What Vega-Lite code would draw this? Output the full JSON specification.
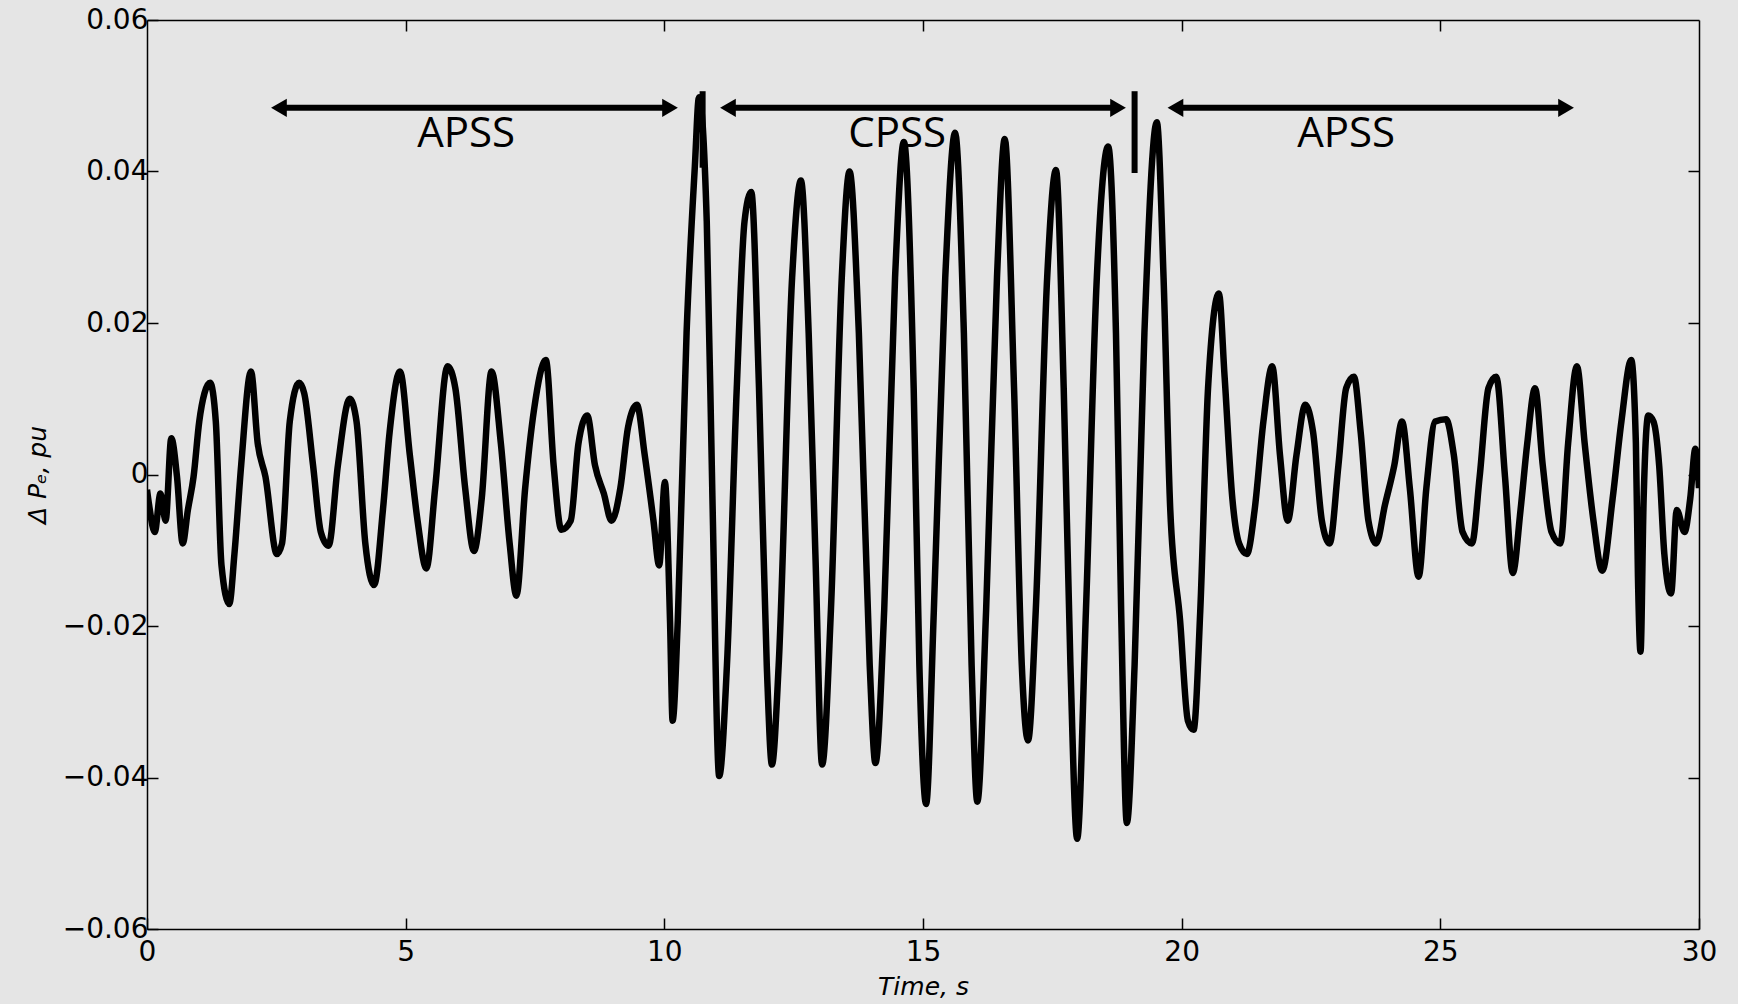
{
  "$schema": "https://vega.github.io/schema/vega-lite/v6.json",
  "width": 1552,
  "height": 909,
  "autosize": {"type": "none"},
  "padding": {"left": 147, "top": 20, "right": 39, "bottom": 75},
  "background": "#e5e5e5",
  "config": {
    "view": {"stroke": null},
    "axis": {
      "domainColor": "#000000",
      "domainWidth": 1.5,
      "tickColor": "#000000",
      "tickWidth": 1.5,
      "grid": false,
      "labelColor": "#000000",
      "titleColor": "#000000",
      "labelFont": "DejaVu Sans",
      "labelFontSize": 28,
      "titleFont": "DejaVu Sans",
      "titleFontStyle": "italic",
      "titleFontWeight": "normal",
      "titleFontSize": 25
    }
  },
  "datasets": {
    "signal": [
      {"t": 0.0, "v": -0.002},
      {"t": 0.04, "v": -0.004},
      {"t": 0.15, "v": -0.0076},
      {"t": 0.26, "v": -0.0025},
      {"t": 0.36, "v": -0.0061},
      {"t": 0.47, "v": 0.0048},
      {"t": 0.58, "v": -0.0003},
      {"t": 0.69, "v": -0.0091},
      {"t": 0.79, "v": -0.0047},
      {"t": 0.9, "v": -0.0003},
      {"t": 1.01, "v": 0.007},
      {"t": 1.11, "v": 0.0107},
      {"t": 1.22, "v": 0.0121},
      {"t": 1.33, "v": 0.007},
      {"t": 1.44, "v": -0.012},
      {"t": 1.59, "v": -0.0171},
      {"t": 1.69, "v": -0.0105},
      {"t": 1.82, "v": 0.0012},
      {"t": 2.01, "v": 0.0136},
      {"t": 2.14, "v": 0.0041},
      {"t": 2.29, "v": -0.0003},
      {"t": 2.51, "v": -0.0105},
      {"t": 2.61, "v": -0.0091},
      {"t": 2.76, "v": 0.007},
      {"t": 2.94, "v": 0.0121},
      {"t": 3.04, "v": 0.0107},
      {"t": 3.21, "v": 0.0012},
      {"t": 3.36, "v": -0.0076},
      {"t": 3.51, "v": -0.0094},
      {"t": 3.69, "v": 0.0012},
      {"t": 3.92, "v": 0.01},
      {"t": 4.05, "v": 0.007},
      {"t": 4.22, "v": -0.0091},
      {"t": 4.39, "v": -0.0146},
      {"t": 4.56, "v": -0.0047},
      {"t": 4.69, "v": 0.0056},
      {"t": 4.89, "v": 0.0136},
      {"t": 5.08, "v": 0.0026},
      {"t": 5.23, "v": -0.0061},
      {"t": 5.4, "v": -0.0124},
      {"t": 5.57, "v": -0.0018},
      {"t": 5.81, "v": 0.0143},
      {"t": 5.96, "v": 0.0114},
      {"t": 6.15, "v": -0.0018},
      {"t": 6.32, "v": -0.0101},
      {"t": 6.47, "v": -0.0032},
      {"t": 6.66, "v": 0.0136},
      {"t": 6.84, "v": 0.0041},
      {"t": 7.01, "v": -0.0091},
      {"t": 7.14, "v": -0.016},
      {"t": 7.31, "v": -0.0018},
      {"t": 7.48, "v": 0.0085},
      {"t": 7.71, "v": 0.0151},
      {"t": 7.86, "v": 0.0012},
      {"t": 8.01, "v": -0.0073},
      {"t": 8.19, "v": -0.0061},
      {"t": 8.34, "v": 0.0041},
      {"t": 8.51, "v": 0.0078},
      {"t": 8.66, "v": 0.0012},
      {"t": 8.83, "v": -0.0025},
      {"t": 8.98, "v": -0.0061},
      {"t": 9.15, "v": -0.0018},
      {"t": 9.3, "v": 0.0063},
      {"t": 9.47, "v": 0.0092},
      {"t": 9.62, "v": 0.0026},
      {"t": 9.79, "v": -0.0061},
      {"t": 9.9, "v": -0.012},
      {"t": 10.01, "v": -0.001},
      {"t": 10.11, "v": -0.0193},
      {"t": 10.16, "v": -0.0325},
      {"t": 10.26, "v": -0.0193},
      {"t": 10.43, "v": 0.0187},
      {"t": 10.59, "v": 0.0407},
      {"t": 10.67, "v": 0.0498},
      {"t": 10.82, "v": 0.0334},
      {"t": 10.93, "v": -0.0032},
      {"t": 11.06, "v": -0.0398},
      {"t": 11.21, "v": -0.0252},
      {"t": 11.4, "v": 0.0114},
      {"t": 11.55, "v": 0.0334},
      {"t": 11.68, "v": 0.0373},
      {"t": 11.83, "v": 0.0114},
      {"t": 11.98, "v": -0.0252},
      {"t": 12.08, "v": -0.0383},
      {"t": 12.21, "v": -0.0252},
      {"t": 12.47, "v": 0.026},
      {"t": 12.64, "v": 0.0388},
      {"t": 12.79, "v": 0.0187},
      {"t": 12.92, "v": -0.0105},
      {"t": 13.05, "v": -0.0383},
      {"t": 13.22, "v": -0.0179},
      {"t": 13.43, "v": 0.026},
      {"t": 13.58, "v": 0.04},
      {"t": 13.76, "v": 0.0187},
      {"t": 13.97, "v": -0.0252},
      {"t": 14.08, "v": -0.0381},
      {"t": 14.25, "v": -0.0179},
      {"t": 14.46, "v": 0.026},
      {"t": 14.63, "v": 0.0439},
      {"t": 14.82, "v": 0.0114},
      {"t": 14.93, "v": -0.0252},
      {"t": 15.06, "v": -0.0435},
      {"t": 15.21, "v": -0.0179},
      {"t": 15.43, "v": 0.026},
      {"t": 15.62, "v": 0.0451},
      {"t": 15.79, "v": 0.0187},
      {"t": 15.94, "v": -0.0252},
      {"t": 16.05, "v": -0.0432},
      {"t": 16.22, "v": -0.0179},
      {"t": 16.43, "v": 0.026},
      {"t": 16.58, "v": 0.0443},
      {"t": 16.76, "v": 0.0114},
      {"t": 16.91, "v": -0.0252},
      {"t": 17.03, "v": -0.0351},
      {"t": 17.18, "v": -0.0179},
      {"t": 17.4, "v": 0.026},
      {"t": 17.57, "v": 0.0402},
      {"t": 17.72, "v": 0.0114},
      {"t": 17.85, "v": -0.0252},
      {"t": 17.98, "v": -0.0481},
      {"t": 18.15, "v": -0.0179},
      {"t": 18.36, "v": 0.026},
      {"t": 18.58, "v": 0.0433},
      {"t": 18.73, "v": 0.0187},
      {"t": 18.83, "v": -0.0179},
      {"t": 18.94, "v": -0.046},
      {"t": 19.09, "v": -0.0252},
      {"t": 19.28, "v": 0.0187},
      {"t": 19.52, "v": 0.0465},
      {"t": 19.65, "v": 0.026},
      {"t": 19.78, "v": -0.0047},
      {"t": 19.97, "v": -0.0193},
      {"t": 20.12, "v": -0.0325},
      {"t": 20.23, "v": -0.0337},
      {"t": 20.36, "v": -0.0179},
      {"t": 20.51, "v": 0.0114},
      {"t": 20.72, "v": 0.0239},
      {"t": 20.83, "v": 0.0129},
      {"t": 20.98, "v": -0.0032},
      {"t": 21.11, "v": -0.0091},
      {"t": 21.26, "v": -0.0105},
      {"t": 21.41, "v": -0.0047},
      {"t": 21.58, "v": 0.007},
      {"t": 21.75, "v": 0.0143},
      {"t": 21.9, "v": 0.0026},
      {"t": 22.05, "v": -0.0061},
      {"t": 22.22, "v": 0.0026},
      {"t": 22.39, "v": 0.0092},
      {"t": 22.54, "v": 0.0056},
      {"t": 22.71, "v": -0.0061},
      {"t": 22.86, "v": -0.0091},
      {"t": 23.03, "v": 0.0012},
      {"t": 23.18, "v": 0.0114},
      {"t": 23.33, "v": 0.0129},
      {"t": 23.46, "v": 0.0056},
      {"t": 23.61, "v": -0.0061},
      {"t": 23.76, "v": -0.0091},
      {"t": 23.93, "v": -0.004},
      {"t": 24.11, "v": 0.0012},
      {"t": 24.26, "v": 0.007},
      {"t": 24.41, "v": -0.0018},
      {"t": 24.58, "v": -0.0135},
      {"t": 24.73, "v": -0.0018},
      {"t": 24.9, "v": 0.007},
      {"t": 25.11, "v": 0.0073},
      {"t": 25.26, "v": 0.0026},
      {"t": 25.43, "v": -0.0076},
      {"t": 25.61, "v": -0.0091},
      {"t": 25.76, "v": -0.0003},
      {"t": 25.93, "v": 0.0114},
      {"t": 26.08, "v": 0.0129},
      {"t": 26.25, "v": -0.0003},
      {"t": 26.4, "v": -0.013},
      {"t": 26.55, "v": -0.0047},
      {"t": 26.68, "v": 0.0041},
      {"t": 26.83, "v": 0.0114},
      {"t": 26.98, "v": 0.0012},
      {"t": 27.15, "v": -0.0076},
      {"t": 27.32, "v": -0.0091},
      {"t": 27.47, "v": 0.0041},
      {"t": 27.64, "v": 0.0143},
      {"t": 27.79, "v": 0.0041},
      {"t": 27.96, "v": -0.0061},
      {"t": 28.13, "v": -0.0127},
      {"t": 28.33, "v": -0.0032},
      {"t": 28.5, "v": 0.007},
      {"t": 28.69, "v": 0.0151},
      {"t": 28.78, "v": 0.0041},
      {"t": 28.82, "v": -0.0135},
      {"t": 28.87, "v": -0.0234},
      {"t": 28.93, "v": -0.0032},
      {"t": 29.02, "v": 0.0078},
      {"t": 29.12, "v": 0.007},
      {"t": 29.23, "v": 0.0012},
      {"t": 29.33, "v": -0.0105},
      {"t": 29.46, "v": -0.0157},
      {"t": 29.57, "v": -0.0047},
      {"t": 29.72, "v": -0.0076},
      {"t": 29.83, "v": -0.0032},
      {"t": 29.93, "v": 0.0034},
      {"t": 30.0, "v": -0.0018}
    ],
    "arrows": [
      {"x1": 2.55, "x2": 10.11, "y": 0.0484},
      {"x1": 11.23, "x2": 18.77, "y": 0.0484},
      {"x1": 19.88, "x2": 27.43, "y": 0.0484}
    ],
    "heads": [
      {"x": 2.55, "y": 0.0484, "dir": "left"},
      {"x": 10.11, "y": 0.0484, "dir": "right"},
      {"x": 11.23, "y": 0.0484, "dir": "left"},
      {"x": 18.77, "y": 0.0484, "dir": "right"},
      {"x": 19.88, "y": 0.0484, "dir": "left"},
      {"x": 27.43, "y": 0.0484, "dir": "right"}
    ],
    "bars": [
      {"x": 10.74, "y1": 0.0506, "y2": 0.0405},
      {"x": 19.09, "y1": 0.0506, "y2": 0.0398}
    ],
    "labels": [
      {"x": 6.17, "y": 0.0432, "label": "APSS"},
      {"x": 14.5, "y": 0.0432, "label": "CPSS"},
      {"x": 23.18, "y": 0.0432, "label": "APSS"}
    ]
  },
  "resolve": {"axis": {"x": "independent", "y": "independent"}},
  "layer": [
    {
      "data": {"name": "signal"},
      "mark": {"type": "line", "color": "#000000", "strokeWidth": 6.5, "interpolate": "monotone", "strokeJoin": "round", "clip": true},
      "encoding": {
        "x": {
          "field": "t", "type": "quantitative",
          "scale": {"domain": [0, 30], "nice": false, "zero": false},
          "axis": {
            "orient": "bottom", "values": [0, 5, 10, 15, 20, 25, 30],
            "tickSize": -11, "labelPadding": 20, "title": "Time, s",
            "titlePadding": 8, "labelFlush": false
          }
        },
        "y": {
          "field": "v", "type": "quantitative",
          "scale": {"domain": [-0.06, 0.06], "nice": false, "zero": false},
          "axis": {
            "orient": "left", "values": [-0.06, -0.04, -0.02, 0, 0.02, 0.04, 0.06],
            "labelExpr": "datum.value == 0 ? '0' : replace(format(datum.value, '.2f'), '-', '\u2212')",
            "tickSize": -11, "labelPadding": 10, "title": "\u0394 P\u2091, pu",
            "titlePadding": 12, "labelFlush": false
          }
        }
      }
    },
    {
      "data": {"name": "arrows"},
      "mark": {"type": "rule", "color": "#000000", "strokeWidth": 6},
      "encoding": {
        "x": {
          "field": "x1", "type": "quantitative",
          "axis": {"orient": "top", "values": [5, 10, 15, 20, 25], "labels": false, "tickSize": -11, "title": null}
        },
        "x2": {"field": "x2"},
        "y": {
          "field": "y", "type": "quantitative",
          "axis": {"orient": "right", "values": [-0.04, -0.02, 0, 0.02, 0.04], "labels": false, "tickSize": -11, "title": null}
        }
      }
    },
    {
      "data": {"name": "heads"},
      "mark": {"type": "point", "filled": true, "color": "#000000", "opacity": 1, "size": 330},
      "encoding": {
        "x": {"field": "x", "type": "quantitative", "axis": null},
        "y": {"field": "y", "type": "quantitative", "axis": null},
        "shape": {
          "field": "dir", "type": "nominal",
          "scale": {"domain": ["left", "right"], "range": ["triangle-left", "triangle-right"]},
          "legend": null
        }
      }
    },
    {
      "data": {"name": "bars"},
      "mark": {"type": "rule", "color": "#000000", "strokeWidth": 6},
      "encoding": {
        "x": {"field": "x", "type": "quantitative", "axis": null},
        "y": {"field": "y1", "type": "quantitative", "axis": null},
        "y2": {"field": "y2"}
      }
    },
    {
      "data": {"name": "labels"},
      "mark": {"type": "text", "font": "Open Sans", "fontSize": 42, "color": "#000000", "align": "center", "baseline": "alphabetic"},
      "encoding": {
        "x": {"field": "x", "type": "quantitative", "axis": null},
        "y": {"field": "y", "type": "quantitative", "axis": null},
        "text": {"field": "label"}
      }
    }
  ]
}
